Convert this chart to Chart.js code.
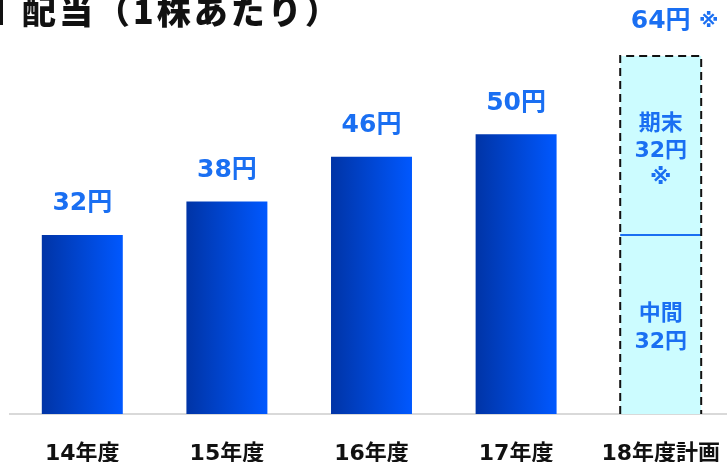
<!DOCTYPE html>
<html>
<head>
<meta charset="utf-8">
<script src="https://cdn.jsdelivr.net/npm/chart.js@4"></script>
<style>
  html, body { margin: 0; padding: 0; background: #fff; overflow: hidden; }
  #wrap { position: relative; width: 733px; height: 462px; }
  #divChart { position: absolute; left: 0; top: 0; }
  #title {
    position: absolute; left: 22px; top: -7px; z-index: 2;
    font: 900 34px "Noto Sans CJK JP", sans-serif; line-height: 1; color: #111;
    letter-spacing: 3px; white-space: nowrap;
  }
  #mark { position: absolute; left: 0; top: 0; width: 3px; height: 25px; background: #111; z-index: 2; }
</style>
</head>
<body>
<div id="wrap">
  <canvas id="divChart" width="733" height="462"></canvas>
  <div id="mark"></div>
  <div id="title">配当（1株あたり）</div>
</div>
<script>
// DIVIDEND PER SHARE
var years = ["14年度", "15年度", "16年度", "17年度", "18年度計画"];
var actual = [32, 38, 46, 50, null];
var interim = [null, null, null, null, 32];
var yearEnd = [null, null, null, null, 32];
var planTotal = 64;

var blueText = "#1a6ff2";
var fam = '"DejaVu Sans", "Noto Sans CJK JP", sans-serif';
var labelFont = "bold 25px " + fam;
var innerFont = "bold 22px " + fam;

function barGradient(c) {
  var chart = c.chart;
  var xs = chart.scales.x;
  if (!chart.chartArea || !xs) return "#0044dd";
  var cx = xs.getPixelForValue(c.dataIndex);
  var w = xs.width / years.length * 0.56;
  var g = chart.ctx.createLinearGradient(cx - w / 2, 0, cx + w / 2, 0);
  g.addColorStop(0, "#0034a6");
  g.addColorStop(1, "#0058ff");
  return g;
}

var labelsPlugin = {
  id: "labels",
  afterDatasetsDraw: function (chart) {
    var ctx = chart.ctx;
    ctx.save();
    ctx.textAlign = "center";
    ctx.textBaseline = "middle";
    ctx.fillStyle = blueText;
    ctx.font = labelFont;
    var meta0 = chart.getDatasetMeta(0);
    actual.forEach(function (v, i) {
      if (v == null) return;
      var bar = meta0.data[i];
      ctx.fillText(v + "円", bar.x, bar.y - 31);
    });

    // plan bar: two stacked parts with dashed outline
    var low = chart.getDatasetMeta(1).data[4];
    var high = chart.getDatasetMeta(2).data[4];
    var left = low.x - low.width / 2;
    var right = low.x + low.width / 2;
    var top = high.y;
    var bottom = low.base;
    var mid = low.y;

    ctx.strokeStyle = blueText;
    ctx.lineWidth = 2;
    ctx.beginPath();
    ctx.moveTo(left, mid);
    ctx.lineTo(right, mid);
    ctx.stroke();

    ctx.strokeStyle = "#111";
    ctx.setLineDash([8, 5]);
    ctx.beginPath();
    ctx.moveTo(left, bottom);
    ctx.lineTo(left, top);
    ctx.lineTo(right, top);
    ctx.lineTo(right, bottom);
    ctx.stroke();
    ctx.setLineDash([]);

    ctx.font = labelFont;
    ctx.fillText(planTotal + "円", low.x, top - 34);
    ctx.font = "bold 20px " + fam;
    ctx.fillText("※", low.x + 48, top - 34);

    ctx.font = innerFont;
    var hm = (top + mid) / 2 + 6;
    ctx.fillText("期末", low.x, hm - 27);
    ctx.fillText(yearEnd[4] + "円", low.x, hm);
    ctx.fillText("※", low.x, hm + 27);
    var lm = (mid + bottom) / 2 + 3;
    ctx.fillText("中間", low.x, lm - 13);
    ctx.fillText(interim[4] + "円", low.x, lm + 15);
    ctx.restore();
  }
};

new Chart("divChart", {
  type: "bar",
  data: {
    labels: years,
    datasets: [
      { data: actual, backgroundColor: barGradient, stack: "s" },
      { data: interim, backgroundColor: "#ccfcff", stack: "s" },
      { data: yearEnd, backgroundColor: "#ccfcff", stack: "s" },
    ],
  },
  options: {
    responsive: false,
    animation: false,
    layout: { padding: { left: 10, right: 0, top: 0, bottom: 0 } },
    barPercentage: 0.56,
    categoryPercentage: 1,
    plugins: { legend: { display: false }, tooltip: { enabled: false } },
    scales: {
      x: {
        stacked: true,
        grid: { display: false, drawTicks: true, tickLength: 27 },
        border: { display: true, color: "#d9d9d9", width: 2 },
        ticks: {
          color: "#111",
          padding: 0,
          maxRotation: 0,
          autoSkip: false,
          font: { family: fam, size: 22, weight: "bold" },
        },
        afterFit: function (s) { s.height = 48; },
      },
      y: { stacked: true, display: false, min: 0, max: 74 },
    },
  },
  plugins: [labelsPlugin],
});
</script>
</body>
</html>
